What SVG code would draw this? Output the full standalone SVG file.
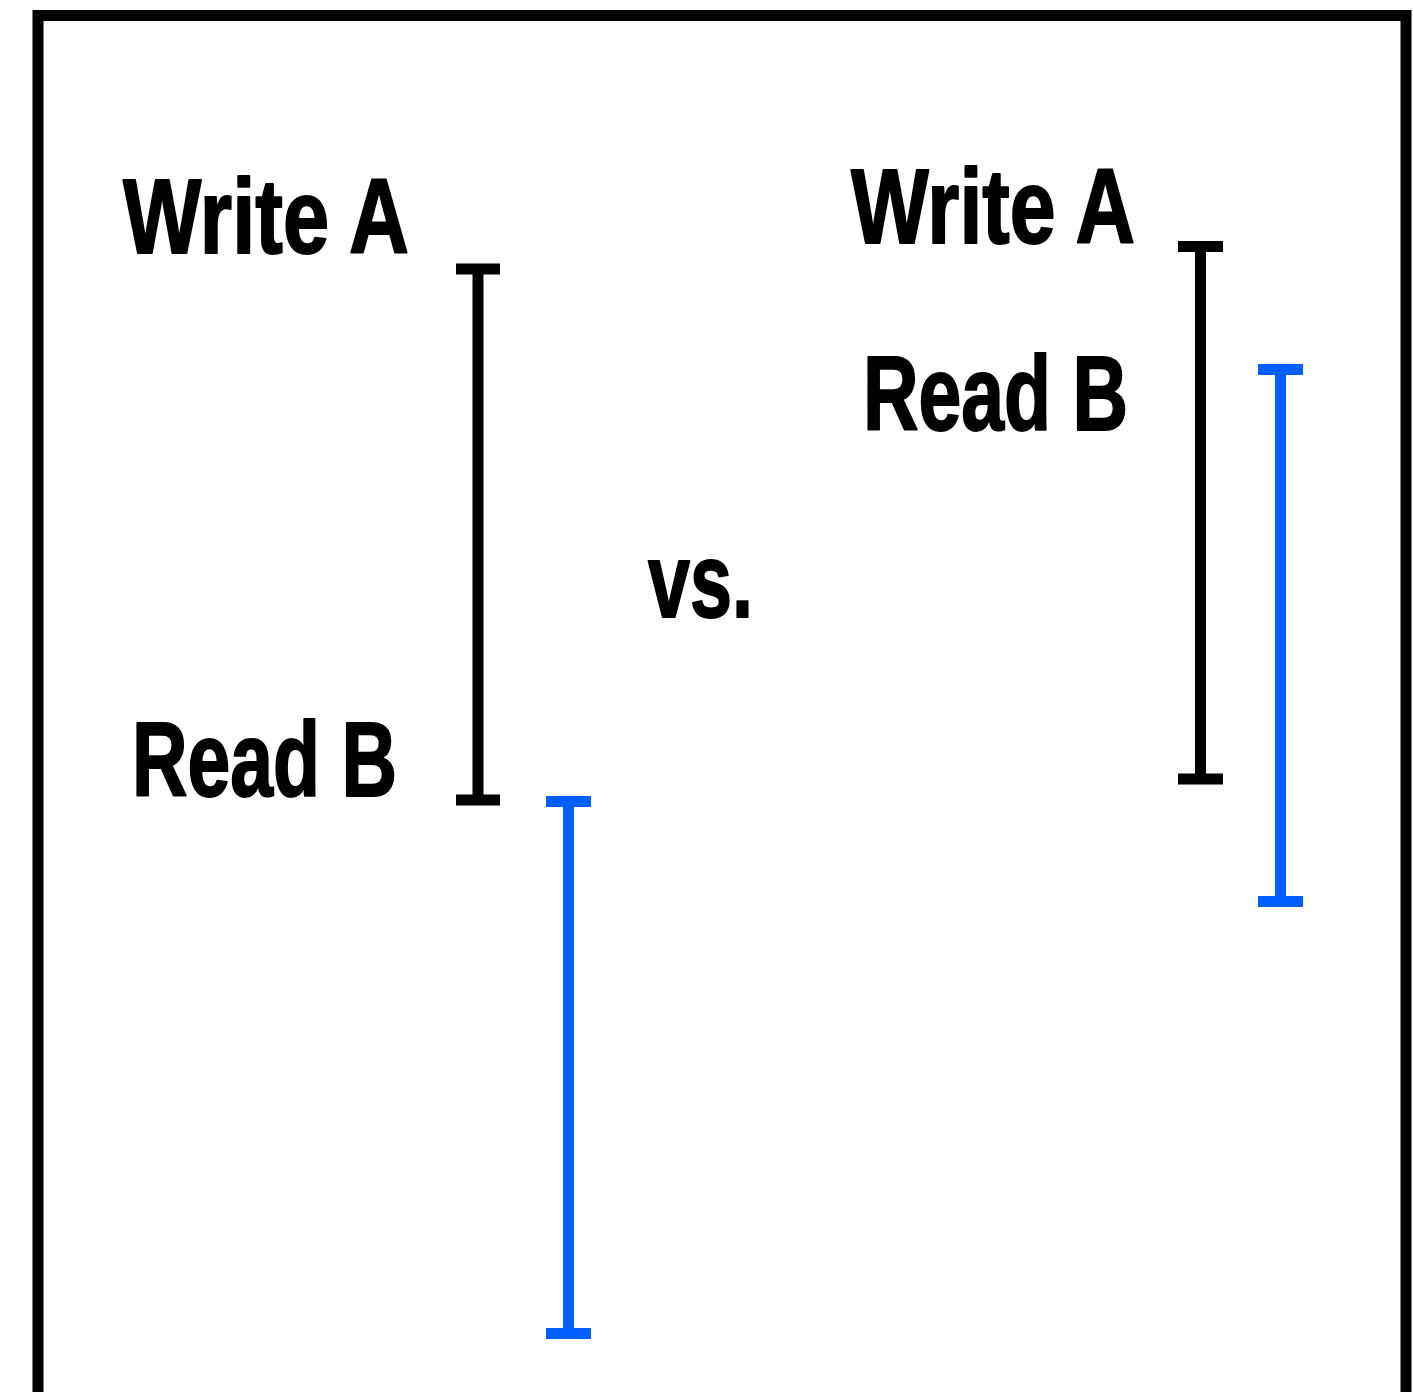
<svg xmlns="http://www.w3.org/2000/svg" width="1413" height="1392" viewBox="0 0 1413 1392">
<style>
.t{font-family:"Liberation Sans",Arial,sans-serif;font-weight:bold;font-size:106px;fill:#000;stroke:#000;stroke-width:2;stroke-linejoin:round}
.bk{stroke:#000;stroke-width:11;fill:none}
.bl{stroke:#005FFF;stroke-width:11;fill:none}
</style>
<rect x="0" y="0" width="1413" height="1392" fill="#fff"/>
<g id="frame"><rect x="38" y="15.5" width="1368" height="1420" fill="none" stroke="#000" stroke-width="11"/></g>
<g id="left-write"><text class="t" x="123" y="253" textLength="286" lengthAdjust="spacingAndGlyphs">Write A</text></g>
<g id="left-read"><text class="t" x="132" y="796" textLength="265" lengthAdjust="spacingAndGlyphs">Read B</text></g>
<g id="right-write"><text class="t" x="851" y="243" textLength="284" lengthAdjust="spacingAndGlyphs">Write A</text></g>
<g id="right-read"><text class="t" x="863" y="430" textLength="265" lengthAdjust="spacingAndGlyphs">Read B</text></g>
<g id="vs"><text class="t" x="648" y="617" textLength="105" lengthAdjust="spacingAndGlyphs">vs.</text></g>
<g id="connectors">
<path class="bk" d="M456,269H500M478,269V800M456,800H500"/>
<path class="bl" d="M546,801.5H591M568.5,801.5V1333.5M546,1333.5H591"/>
<path class="bk" d="M1178,246.5H1223M1200.5,246.5V779M1178,779H1223"/>
<path class="bl" d="M1258,369.5H1303M1280.5,369.5V901.5M1258,901.5H1303"/>
</g>
</svg>
